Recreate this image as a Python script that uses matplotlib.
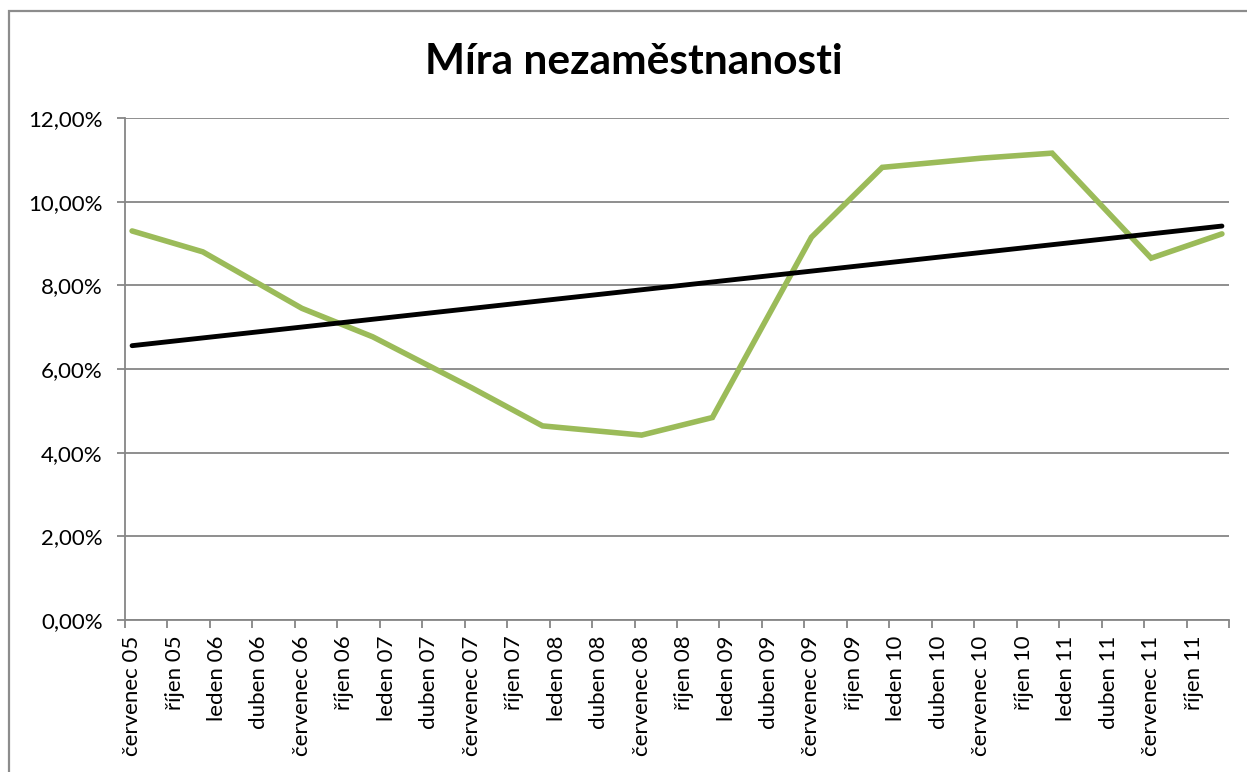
import numpy as np
import matplotlib
matplotlib.use("Agg")
import matplotlib.pyplot as plt
from matplotlib.patches import Rectangle

# ---- data ----
title = "Míra nezaměstnanosti"
dates = ["2005-07", "2005-12", "2006-07", "2006-12", "2007-07", "2007-12",
         "2008-07", "2008-12", "2009-07", "2009-12", "2010-07", "2010-12",
         "2011-07", "2011-12"]
values = [9.30, 8.80, 7.45, 6.77, 5.55, 4.64, 4.42, 4.84, 9.15, 10.82,
          11.04, 11.16, 8.65, 9.23]
tick_labels = ["červenec 05", "říjen 05", "leden 06", "duben 06",
               "červenec 06", "říjen 06", "leden 07", "duben 07",
               "červenec 07", "říjen 07", "leden 08", "duben 08",
               "červenec 08", "říjen 08", "leden 09", "duben 09",
               "červenec 09", "říjen 09", "leden 10", "duben 10",
               "červenec 10", "říjen 10", "leden 11", "duben 11",
               "červenec 11", "říjen 11"]
y_ticks = [0, 2, 4, 6, 8, 10, 12]
start = (2005, 7)
n_months = 78

plt.rcParams['font.family'] = ['Lato', 'DejaVu Sans']

def month_index(s):
    y, m = map(int, s.split("-"))
    return (y - start[0]) * 12 + (m - start[1])

x = np.array([month_index(d) for d in dates]) + 0.5
yv = np.array(values)

W, H = 1247, 772
fig = plt.figure(figsize=(W / 100, H / 100), dpi=100)
fig.patch.set_facecolor("white")

# chart border
fig.patches.append(Rectangle((9 / W, -0.05), 1.1, 1 - 11 / H + 0.05,
                             transform=fig.transFigure, fill=False,
                             edgecolor="#8c8c8c", linewidth=1.6))

ax = fig.add_axes([125 / W, 1 - 620 / H, (1229 - 125) / W, (620 - 118) / H])

grid_c = "#868686"
ax.set_xlim(0, n_months)
ax.set_ylim(0, 12)
ax.set_yticks(y_ticks)
ax.set_yticklabels([f"{v:.2f}".replace(".", ",") + "%" for v in y_ticks])
ax.yaxis.grid(True, color=grid_c, linewidth=1.3)
ax.set_axisbelow(True)

major = np.arange(0, n_months + 1, 3)
ax.set_xticks(major)
ax.set_xticklabels([])
ax.set_xticks(major[:-1] + 0.5, minor=True)
ax.set_xticklabels(tick_labels, minor=True, rotation=90, fontsize=16)
ax.tick_params(axis="x", which="minor", length=0, pad=11)
ax.tick_params(axis="x", which="major", length=6, width=1.3, color=grid_c)
ax.tick_params(axis="y", length=6, width=1.3, color=grid_c, labelsize=16, pad=10)

for s in ["top", "right"]:
    ax.spines[s].set_visible(False)
for s in ["left", "bottom"]:
    ax.spines[s].set_color(grid_c)
    ax.spines[s].set_linewidth(1.3)

ax.plot(x, yv, color="#9BBB59", linewidth=4.0, solid_capstyle="round",
        solid_joinstyle="miter", zorder=3)

coef = np.polyfit(x, yv, 1)
xt = np.array([x[0], x[-1]])
ax.plot(xt, np.polyval(coef, xt), color="black", linewidth=3.5,
        solid_capstyle="round", zorder=4)

fig.text(634 / W, 1 - 74 / H, title, ha="center", va="baseline",
         fontsize=30.5, fontweight="bold")

fig.savefig("out.png", dpi=100)
